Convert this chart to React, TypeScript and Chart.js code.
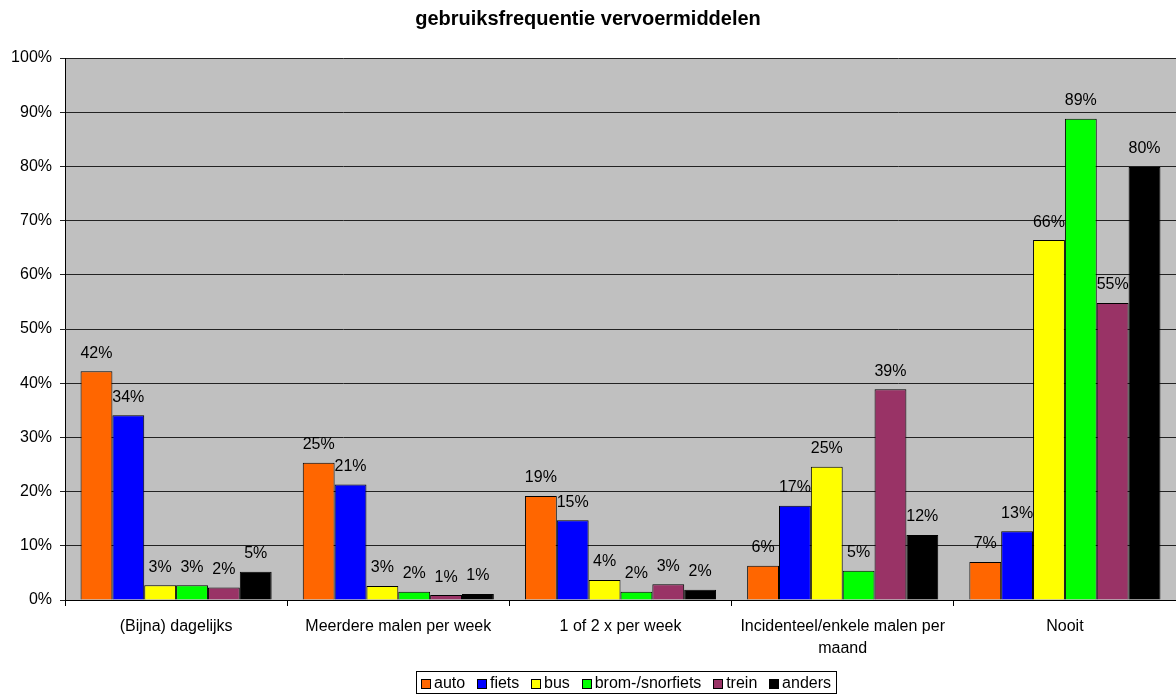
import React, { useEffect, useRef } from "react";
import { Chart, registerables } from "chart.js";

Chart.register(...registerables);

const TITLE = "gebruiksfrequentie vervoermiddelen";
const categories: (string | string[])[] = [
  "(Bijna) dagelijks",
  "Meerdere malen per week",
  "1 of 2 x per week",
  ["Incidenteel/enkele malen per", "maand"],
  "Nooit",
];
const seriesNames = ["auto", "fiets", "bus", "brom-/snorfiets", "trein", "anders"];
const seriesColors = ["#FF6600", "#0000FF", "#FFFF00", "#00FF00", "#993366", "#000000"];
const auto = [42.2, 25.3, 19.2, 6.3, 7.0];
const fiets = [34.1, 21.3, 14.7, 17.4, 12.7];
const bus = [2.7, 2.6, 3.7, 24.6, 66.4];
const brom = [2.7, 1.5, 1.5, 5.4, 88.8];
const trein = [2.3, 0.9, 2.9, 38.9, 54.8];
const anders = [5.2, 1.1, 1.9, 12.0, 79.9];
const seriesValues = [auto, fiets, bus, brom, trein, anders];
const yTicks = [0, 10, 20, 30, 40, 50, 60, 70, 80, 90, 100];

const FONT = "Arial, 'Liberation Sans', sans-serif";

const bgPlugin = {
  id: "plotBg",
  beforeDraw(chart: any) {
    const { ctx, chartArea } = chart;
    ctx.save();
    ctx.fillStyle = "#C0C0C0";
    ctx.fillRect(chartArea.left, chartArea.top, chartArea.right - chartArea.left, chartArea.bottom - chartArea.top);
    ctx.restore();
  },
};

const labelPlugin = {
  id: "barLabels",
  afterDatasetsDraw(chart: any) {
    const { ctx } = chart;
    ctx.save();
    ctx.font = `16px ${FONT}`;
    ctx.fillStyle = "#000";
    ctx.textAlign = "center";
    ctx.textBaseline = "middle";
    chart.data.datasets.forEach((ds: any, i: number) => {
      const meta = chart.getDatasetMeta(i);
      meta.data.forEach((bar: any, j: number) => {
        const v = ds.data[j];
        ctx.fillText(Math.round(v) + "%", bar.x, bar.y - 18);
      });
    });
    ctx.restore();
  },
};

const legendPlugin = {
  id: "boxLegend",
  afterDraw(chart: any) {
    const { ctx } = chart;
    ctx.save();
    ctx.font = `16px ${FONT}`;
    const sq = 9;
    const gapText = 4;
    const pad = 5;
    const left = 416;
    const boxW = 420;
    const top = 671;
    const h = 22;
    const widths = seriesNames.map((n) => ctx.measureText(n).width);
    const content = widths.reduce((a, b) => a + b, 0) + seriesNames.length * (sq + gapText);
    const gapItem = (boxW - pad * 2 - content) / (seriesNames.length - 1);
    const midY = top + h / 2 + 1;
    ctx.fillStyle = "#fff";
    ctx.fillRect(left, top, boxW, h);
    ctx.strokeStyle = "#000";
    ctx.lineWidth = 1;
    ctx.strokeRect(left + 0.5, top + 0.5, boxW, h);
    let x = left + pad;
    ctx.textBaseline = "middle";
    ctx.textAlign = "left";
    seriesNames.forEach((n, i) => {
      ctx.fillStyle = seriesColors[i];
      const sx = Math.round(x) + 0.5;
      const sy = Math.round(midY - sq / 2) + 0.5;
      ctx.fillRect(sx, sy, sq, sq);
      ctx.strokeStyle = "#000";
      ctx.strokeRect(sx, sy, sq, sq);
      x += sq + gapText;
      ctx.fillStyle = "#000";
      ctx.fillText(n, x, midY + 1);
      x += widths[i] + gapItem;
    });
    ctx.restore();
  },
};

export default function App() {
  const ref = useRef<HTMLCanvasElement>(null);
  useEffect(() => {
    document.body.style.margin = "0";
    const canvas = ref.current!;
    const chart = new Chart(canvas, {
      type: "bar",
      data: {
        labels: categories,
        datasets: seriesNames.map((name, i) => ({
          label: name,
          data: seriesValues[i],
          backgroundColor: seriesColors[i],
          borderColor: "#000",
          borderWidth: 1,
          categoryPercentage: 0.86,
          barPercentage: 1,
        })),
      },
      options: {
        animation: false,
        responsive: true,
        maintainAspectRatio: false,
        layout: { padding: { left: 0, right: 0, top: 0, bottom: 34 } },
        plugins: {
          legend: { display: false },
          tooltip: { enabled: false },
          title: {
            display: true,
            text: TITLE,
            color: "#000",
            font: { family: FONT, size: 20, weight: "bold" },
            padding: { top: 7, bottom: 27 },
          },
        },
        scales: {
          x: {
            offset: true,
            grid: {
              offset: true,
              drawOnChartArea: false,
              drawTicks: true,
              tickLength: 6,
              color: "#000",
            },
            border: { display: true, color: "#000", width: 1 },
            ticks: {
              color: "#000",
              font: { family: FONT, size: 16, lineHeight: 1.375 },
              padding: 10,
              maxRotation: 0,
              autoSkip: false,
            },
            afterFit(scale: any) {
              scale.height = 60;
            },
          },
          y: {
            min: 0,
            max: 100,
            afterBuildTicks(scale: any) {
              scale.ticks = yTicks.map((v) => ({ value: v }));
            },
            grid: {
              color: "#222",
              drawTicks: true,
              tickLength: 5,
            },
            border: { display: true, color: "#000", width: 1 },
            ticks: {
              color: "#000",
              font: { family: FONT, size: 16 },
              padding: 8,
              callback: (v: any) => v + "%",
            },
            afterFit(scale: any) {
              scale.width = 65;
            },
          },
        },
      },
      plugins: [bgPlugin, labelPlugin, legendPlugin],
    } as any);
    return () => chart.destroy();
  }, []);
  return (
    <div style={{ width: 1176, height: 694, position: "relative" }}>
      <canvas ref={ref} />
    </div>
  );
}
